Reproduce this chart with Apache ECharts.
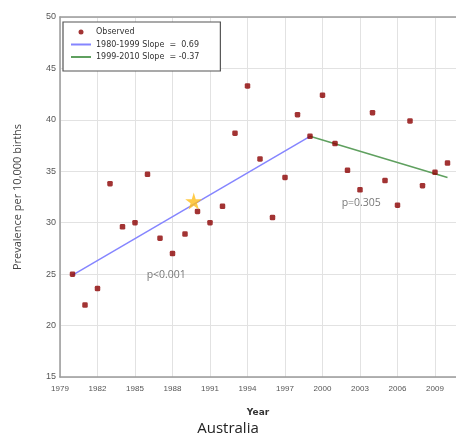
<!DOCTYPE html>
<html>
<head>
<meta charset="utf-8">
<script src="https://cdn.jsdelivr.net/npm/echarts@6/dist/echarts.min.js"></script>
<style>html,body{margin:0;padding:0;background:#fff}#c{width:456px;height:438px}</style>
</head>
<body>
<div id="c"></div>
<script>
const years = [1980,1981,1982,1983,1984,1985,1986,1987,1988,1989,1990,1991,1992,1993,1994,1995,1996,1997,1998,1999,2000,2001,2002,2003,2004,2005,2006,2007,2008,2009,2010];
const observed = [25.0,22.0,23.6,33.8,29.6,30.0,34.7,28.5,27.0,28.9,31.1,30.0,31.6,38.7,43.3,36.2,30.5,34.4,40.5,38.4,42.4,37.7,35.1,33.2,40.7,34.1,31.7,39.9,33.6,34.9,35.8];
const trendYears1 = [1980, 1999];
const trendValues1 = [24.9, 38.4];
const trendYears2 = [1999, 2010];
const trendValues2 = [38.4, 34.4];
const starPoint = [1989.7, 32.1];
const annotationTexts = ['p<0.001', 'p=0.305'];
const annotationX = [1987.5, 2003.1];
const annotationY = [24.9, 31.9];
const seriesNames = ['Observed', '1980-1999 Slope  =  0.69', '1999-2010 Slope  = -0.37'];

const chart = echarts.init(document.getElementById('c'), null, {renderer: 'canvas'});
const starPath = 'path://M50,0 L61,35 L98,35 L68,57 L79,91 L50,70 L21,91 L32,57 L2,35 L39,35 Z';
const lineIcon = 'path://M0,0 L10,0 L10,1 L0,1 Z';
const frame = {show: true, lineStyle: {color: '#9a9a9a', width: 1.5}};

chart.setOption({
  animation: false,
  backgroundColor: '#fff',
  grid: {left: 60, top: 17, bottom: 61, right: 0},
  legend: {
    left: 63, top: 22, orient: 'vertical',
    data: [
      {name: seriesNames[0], icon: 'circle'},
      {name: seriesNames[1], icon: lineIcon},
      {name: seriesNames[2], icon: lineIcon}
    ],
    itemWidth: 20, itemHeight: 5, itemGap: 4.5,
    padding: [6, 21, 10, 8],
    backgroundColor: '#fff', borderColor: '#555', borderWidth: 1.2,
    textStyle: {fontSize: 8, color: '#333', fontFamily: 'DejaVu Sans'}
  },
  xAxis: [{
    type: 'value', min: 1979, max: 2010.68, interval: 3,
    name: 'Year', nameLocation: 'middle', nameGap: 31,
    nameTextStyle: {fontSize: 9, fontWeight: 'bold', color: '#333', fontFamily: 'DejaVu Sans'},
    axisLine: frame, axisTick: {show: false},
    axisLabel: {fontSize: 8, color: '#555', margin: 8, showMaxLabel: false, fontFamily: 'Liberation Sans', formatter: v => String(v)},
    splitLine: {show: true, showMaxLine: false, lineStyle: {color: '#e2e2e2', width: 1}}
  }, {
    type: 'value', position: 'top', min: 1979, max: 2010.68,
    axisLine: frame, axisTick: {show: false}, axisLabel: {show: false}, splitLine: {show: false}
  }],
  yAxis: {
    type: 'value', min: 15, max: 50, interval: 5,
    name: 'Prevalence per 10,000 births', nameLocation: 'middle', nameGap: 37,
    nameTextStyle: {fontSize: 11, color: '#444', fontFamily: 'Open Sans'},
    axisLine: frame, axisTick: {show: false},
    axisLabel: {fontSize: 9, color: '#555', margin: 4, fontFamily: 'Liberation Sans'},
    splitLine: {show: true, lineStyle: {color: '#e2e2e2', width: 1}}
  },
  series: [
    {
      name: seriesNames[1], type: 'line', symbol: 'none', z: 2,
      lineStyle: {color: '#8585ff', width: 1.5}, itemStyle: {color: '#8585ff'},
      data: trendYears1.map((y, i) => [y, trendValues1[i]])
    },
    {
      name: seriesNames[2], type: 'line', symbol: 'none', z: 2,
      lineStyle: {color: '#5fa05f', width: 1.5}, itemStyle: {color: '#5fa05f'},
      data: trendYears2.map((y, i) => [y, trendValues2[i]])
    },
    {
      name: seriesNames[0], type: 'scatter', symbol: 'roundRect', symbolSize: 5.5, z: 3,
      itemStyle: {color: '#8b0000'},
      data: years.map((y, i) => [y, observed[i]])
    },
    {
      name: 'star', type: 'scatter', symbol: starPath, symbolSize: 17, z: 4,
      itemStyle: {color: '#ffbe1a'},
      data: [starPoint]
    },
    {
      name: 'annotations', type: 'scatter', symbolSize: 0, z: 5, silent: true,
      label: {show: true, position: 'inside', formatter: p => annotationTexts[p.dataIndex], fontSize: 10.5, color: '#555', fontFamily: 'Open Sans'},
      data: annotationX.map((x, i) => [x, annotationY[i]])
    }
  ],
  graphic: [{
    type: 'text', left: 'center', top: 421,
    style: {text: 'Australia', fontSize: 15, fill: '#222', fontFamily: 'Open Sans'}
  }]
});
</script>
</body>
</html>
